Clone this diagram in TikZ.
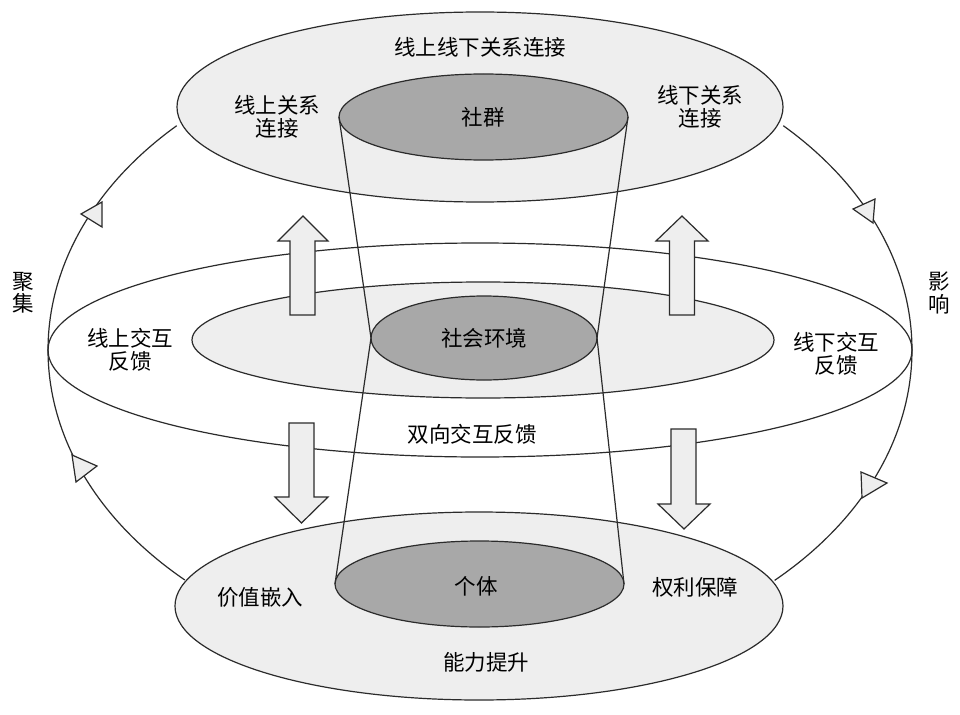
\documentclass[tikz,border=0pt]{standalone}
\usepackage{fontspec}
\setmainfont{Noto Sans CJK SC}
\usetikzlibrary{shapes.geometric}
\definecolor{lightfill}{HTML}{EEEEEE}
\definecolor{darkfill}{HTML}{A8A8A8}
\definecolor{linec}{HTML}{2B2B2B}
\begin{document}
\begin{tikzpicture}[x=1pt,y=-1pt,
  ell/.style={ellipse, draw=linec, line width=1.2pt, inner sep=0pt, outer sep=0pt},
  lightell/.style={ell, fill=lightfill},
  darkell/.style={ell, fill=darkfill},
  lbl/.style={font=\fontsize{21.5}{22.5}\selectfont, align=center, inner sep=0pt, text=black},
  loopline/.style={draw=linec, line width=1.2pt},
  blockarrow/.style={draw=linec, line width=1.2pt, fill=lightfill, line join=miter},
  tri/.style={draw=linec, line width=1.2pt, fill=lightfill, line join=miter},
  funnel/.style={draw=linec, line width=1.2pt}
]
\fill[white] (0,0) rectangle (960,714);
\useasboundingbox (0,0) rectangle (960,714);

% loop arcs (aggregation / influence)
\coordinate (aTL) at ({480+432*cos(134.6)},{350-315*sin(134.6)});
\coordinate (aBL) at ({480+432*cos(226.9)},{350-315*sin(226.9)});
\coordinate (aTR) at ({480+432*cos(45.4)},{350-315*sin(45.4)});
\coordinate (aBR) at ({480+432*cos(-47)},{350-315*sin(-47)});
\draw[loopline] plot[domain=134.6:226.9, samples=90] ({480+432*cos(\x)},{350-315*sin(\x)});
\draw[loopline] plot[domain=45.4:-47, samples=90] ({480+432*cos(\x)},{350-315*sin(\x)});

% middle ring
\node[ell, minimum width=864pt, minimum height=214pt] (midO) at (480,350) {};
\node[lightell, minimum width=582pt, minimum height=116pt] (midI) at (483,340) {};

% top and bottom discs
\node[lightell, minimum width=606pt, minimum height=190pt] (topE) at (480,107) {};
\node[lightell, minimum width=608pt, minimum height=188pt] (botE) at (479,606) {};

% dark cores
\node[darkell, minimum width=289pt, minimum height=86pt] (topD) at (483.5,117) {};
\node[darkell, minimum width=226pt, minimum height=84pt] (midD) at (484,338) {};
\node[darkell, minimum width=289pt, minimum height=86pt] (botD) at (479.5,584) {};

% hourglass funnel
\draw[funnel] (topD.west) -- (midD.west) -- (botD.west);
\draw[funnel] (topD.east) -- (midD.east) -- (botD.east);

% block arrows
\draw[blockarrow] (290,315) -- (290,241) -- (278,241) -- (303,216) -- (328,241) -- (315,241) -- (315,315) -- cycle;
\draw[blockarrow] (669.5,315) -- (669.5,241) -- (656,241) -- (682,216) -- (708,241) -- (694.5,241) -- (694.5,315) -- cycle;
\draw[blockarrow] (289,423) -- (289,497) -- (275,497) -- (301.5,523) -- (328,497) -- (314,497) -- (314,423) -- cycle;
\draw[blockarrow] (671,429) -- (671,504) -- (658,504) -- (684,529) -- (710,504) -- (696,504) -- (696,429) -- cycle;

% triangle markers on the loop
\draw[tri] (102,202) -- (102,227) -- (81,214) -- cycle;
\draw[tri] (72,455) -- (76,482) -- (97,466) -- cycle;
\draw[tri] (875,199) -- (873,223) -- (853,209) -- cycle;
\draw[tri] (861,472) -- (862,498) -- (887,483) -- cycle;

% labels
\node[lbl] (tTitle) at (480,47) {线上线下关系连接};
\node[lbl] (tOnRel) at (277,117) {线上关系\\连接};
\node[lbl] (tOffRel) at (700,107) {线下关系\\连接};
\node[lbl] (tShequn) at (483,117) {社群};
\node[lbl] (tJuji) at (23,293) {聚\\集};
\node[lbl] (tYingx) at (939,293) {影\\响};
\node[lbl] (tOnFb) at (130,350) {线上交互\\反馈};
\node[lbl] (tOffFb) at (836,354) {线下交互\\反馈};
\node[lbl] (tEnv) at (484,338) {社会环境};
\node[lbl] (tBi) at (472,434) {双向交互反馈};
\node[lbl] (tValue) at (260,597) {价值嵌入};
\node[lbl] (tIndiv) at (476,586) {个体};
\node[lbl] (tRights) at (695,587) {权利保障};
\node[lbl] (tAbility) at (486,662) {能力提升};
\end{tikzpicture}
\end{document}
